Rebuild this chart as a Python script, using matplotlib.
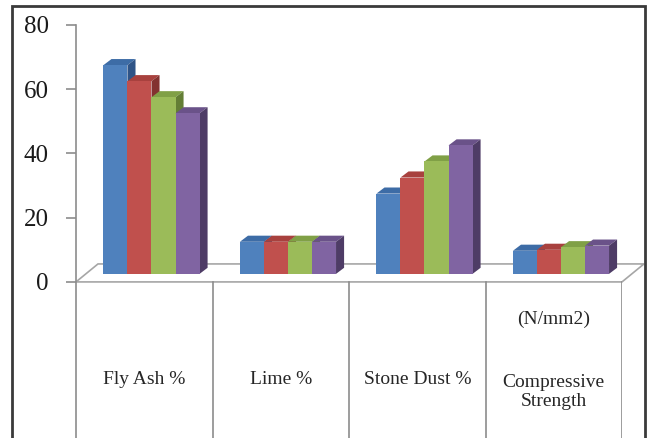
import matplotlib
matplotlib.use("Agg")
import matplotlib.pyplot as plt
from matplotlib.patches import Polygon, Rectangle

plt.rcParams['font.family'] = ['Liberation Serif', 'DejaVu Serif']

# ---------------- data ----------------
categories = ["Fly Ash %", "Lime %", "Stone Dust %", "Compressive\nStrength"]
unit_note = "(N/mm2)"
series_1 = [65, 10, 25, 7.2]
series_2 = [60, 10, 30, 7.5]
series_3 = [55, 10, 35, 8.3]
series_4 = [50, 10, 40, 8.8]
series = [series_1, series_2, series_3, series_4]
y_ticks = [0, 20, 40, 60, 80]

front_colors = ["#4F81BD", "#C0504D", "#9BBB59", "#8064A2"]
top_colors = ["#3D6CA6", "#A8413E", "#80A046", "#6A5289"]
side_colors = ["#2F5487", "#833230", "#637E35", "#4E3C66"]

# ---------------- figure ----------------
W, H = 653, 438
fig = plt.figure(figsize=(W / 100, H / 100), dpi=100)
ax = fig.add_axes([76 / W, 0, 546 / W, (H - 25) / H])
ymin, ymax = -48.6, 80
ax.set_xlim(-0.5, len(categories) - 0.5)
ax.set_ylim(ymin, ymax)

# 3D geometry (style parameters, in data units)
bw = 0.176          # bar width
grp_off = 0.053     # group shift
base = 2.5          # bar base height relative to front floor edge
bdx, bdy = 0.059, 1.9   # bar depth offset
fdx, fdy = 0.161, 5.6   # floor depth offset

# floor
n = len(categories)
floor = Polygon([(-0.5, 0), (-0.5 + fdx, fdy), (n - 0.5 + fdx, fdy), (n - 0.5, 0)],
                closed=True, facecolor="white", edgecolor="#A6A6A6", lw=1.2,
                clip_on=False, zorder=1)
ax.add_patch(floor)

# bars
ns = len(series)
z = 2
for i in range(n):
    left0 = i + grp_off - ns * bw / 2
    for j, vals in enumerate(series):
        v = vals[i]
        xl = left0 + j * bw
        top = Polygon([(xl, base + v), (xl + bdx, base + v + bdy),
                       (xl + bw + bdx, base + v + bdy), (xl + bw, base + v)],
                      closed=True, facecolor=top_colors[j], edgecolor="none", zorder=z)
        side = Polygon([(xl + bw, base), (xl + bw + bdx, base + bdy),
                        (xl + bw + bdx, base + v + bdy), (xl + bw, base + v)],
                       closed=True, facecolor=side_colors[j], edgecolor="none", zorder=z)
        ax.add_patch(top)
        ax.add_patch(side)
        ax.bar(xl, v, width=bw, bottom=base, align="edge", color=front_colors[j],
               edgecolor="none", zorder=z + 1)
        z += 2

# category table lines
for k in range(1, n + 1):
    ax.plot([k - 0.5, k - 0.5], [ymin, 0], color="#8C8C8C", lw=1.2, zorder=1)

# category labels
for i, lab in enumerate(categories):
    ax.text(i, -30.5 if "\n" not in lab else -34.2, lab, ha="center", va="center",
            fontsize=14, color="#262626", linespacing=1.18)
ax.text(n - 1, -11.6, unit_note, ha="center", va="center", fontsize=14, color="#262626")

# axes styling
for s in ["top", "right", "bottom"]:
    ax.spines[s].set_visible(False)
ax.spines["left"].set_color("#8C8C8C")
ax.spines["left"].set_linewidth(1.2)
ax.set_xticks([])
ax.set_yticks(y_ticks)
ax.set_yticklabels([str(t) for t in y_ticks], fontsize=18, color="#1a1a1a")
ax.tick_params(axis="y", direction="out", length=7.5, width=1.2, color="#8C8C8C", pad=12)
ax.patch.set_alpha(0)

# outer frame
fig.patches.append(Rectangle((12 / W, -0.1), (645 - 12) / W, 1.1 - 6 / H,
                             transform=fig.transFigure, fill=False,
                             edgecolor="#3A3A3A", lw=2, zorder=10))

fig.savefig("out.png", dpi=100)
